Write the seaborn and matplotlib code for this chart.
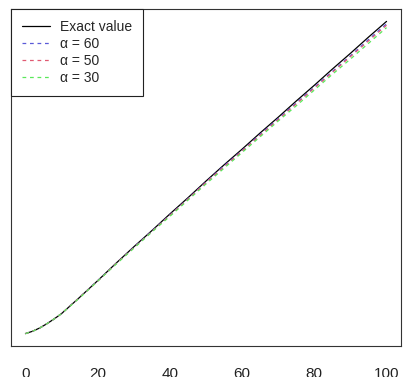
import seaborn as sns
import matplotlib.pyplot as plt
import pandas as pd

# valores
x = [0, 2, 4, 6, 8, 10, 15, 20, 25, 30, 35, 40, 45, 50, 55, 60, 65, 70, 75, 80, 85, 90, 95, 100]
exacto = [0.10, 0.15, 0.22, 0.31, 0.41, 0.52, 0.86, 1.21, 1.57, 1.92, 2.26, 2.61, 2.95, 3.30,
          3.64, 3.97, 4.31, 4.64, 4.98, 5.31, 5.65, 5.98, 6.32, 6.65]
alfa60 = [0.10, 0.15, 0.22, 0.31, 0.41, 0.52, 0.86, 1.21, 1.56, 1.91, 2.25, 2.59, 2.93, 3.28,
          3.62, 3.94, 4.28, 4.61, 4.94, 5.27, 5.60, 5.93, 6.27, 6.60]
alfa50 = [0.10, 0.15, 0.22, 0.31, 0.41, 0.52, 0.86, 1.20, 1.56, 1.90, 2.24, 2.58, 2.92, 3.27,
          3.60, 3.93, 4.26, 4.59, 4.92, 5.25, 5.58, 5.91, 6.24, 6.57]
alfa30 = [0.10, 0.15, 0.22, 0.31, 0.41, 0.52, 0.85, 1.20, 1.55, 1.89, 2.23, 2.56, 2.90, 3.24,
          3.57, 3.90, 4.23, 4.56, 4.88, 5.21, 5.54, 5.86, 6.19, 6.52]

etiquetas = ["Exact value", "α = 60", "α = 50", "α = 30"]
colores = ["black", "#5a5ad8", "#e05a72", "#5ae85a"]
xticks = [0, 20, 40, 60, 80, 100]

df = pd.DataFrame({"x": x, "exacto": exacto, "a60": alfa60, "a50": alfa50, "a30": alfa30})

sns.set_style("white")
plt.rcParams["font.family"] = ["Liberation Sans", "DejaVu Sans"]

fig = plt.figure(figsize=(4.05, 3.77), dpi=100)
ax = fig.add_axes([11 / 405, 1 - 346 / 377, 390 / 405, 337 / 377])

sns.lineplot(data=df, x="x", y="exacto", color=colores[0], lw=0.9, label=etiquetas[0], ax=ax)
for col, lab, c in zip(["a60", "a50", "a30"], etiquetas[1:], colores[1:]):
    sns.lineplot(data=df, x="x", y=col, color=c, lw=0.9, label=lab, ax=ax,
                 linestyle=(0, (3, 3)))

ax.set_xlim(-4, 104)
ax.set_ylim(-0.16, 6.91)
ax.set_xticks(xticks)
ax.set_xticklabels([str(v) for v in xticks])
ax.set_yticks(range(0, 7))
ax.set_yticklabels([])
ax.set_xlabel("")
ax.set_ylabel("")
ax.tick_params(axis="x", length=7, width=0.8, pad=8, labelsize=11, colors="#222222")
ax.tick_params(axis="y", length=8, width=0.8, colors="#222222")
for s in ax.spines.values():
    s.set_color("#333333")
    s.set_linewidth(0.8)

leg = ax.legend(loc="upper left", bbox_to_anchor=(0, 1), borderaxespad=0,
                fancybox=False, edgecolor="#222222", fontsize=10,
                handlelength=2.0, handletextpad=0.7, labelspacing=0.22,
                borderpad=0.8, framealpha=1)
leg.get_frame().set_linewidth(0.8)

fig.savefig("out.png", dpi=100)
